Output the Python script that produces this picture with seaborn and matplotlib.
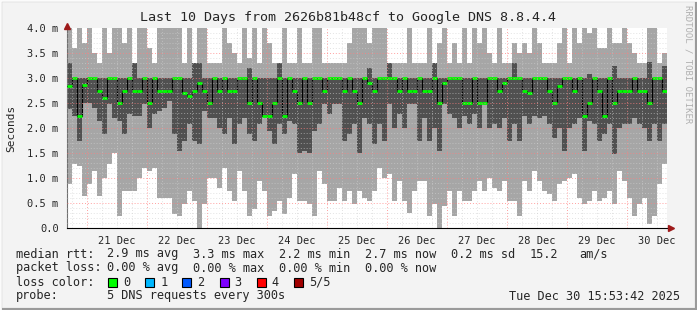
import seaborn as sns
import matplotlib.pyplot as plt
from matplotlib.patches import Rectangle
import pandas as pd
import numpy as np

# 120 two-hour slots, values in ms
smoke_hi = [4.0, 3.6, 4.0, 3.7, 4.0, 3.5, 3.3, 4.0, 3.5, 4.0, 4.0, 3.7, 4.0, 3.3, 4.0, 4.0, 3.6, 3.3, 4.0, 4.0,
            4.0, 4.0, 4.0, 3.3, 4.0, 3.31, 4.0, 4.0, 3.3, 3.3, 3.3, 4.0, 3.7, 3.5, 3.3, 4.0, 3.4, 4.0, 3.3, 4.0,
            3.7, 3.3, 3.3, 4.0, 3.3, 3.3, 4.0, 3.3, 3.3, 4.0, 4.0, 3.3, 3.3, 3.3, 3.3, 3.3, 3.7, 4.0, 4.0, 4.0,
            3.7, 4.0, 4.0, 4.0, 3.3, 3.3, 3.3, 3.3, 4.0, 3.3, 3.3, 3.3, 4.0, 3.3, 3.7, 4.0, 3.3, 3.7, 3.3, 4.0,
            3.3, 4.0, 3.7, 4.0, 3.5, 3.3, 4.0, 3.3, 3.3, 3.7, 3.5, 3.7, 3.5, 4.0, 3.7, 3.3, 3.3, 3.3, 3.7, 4.0,
            3.3, 4.0, 3.7, 4.0, 3.9, 4.0, 3.6, 3.6, 4.0, 3.7, 3.7, 4.0, 3.7, 3.5, 3.3, 3.3, 4.0, 4.0, 3.3, 3.5]
smoke_lo = [0.88, 1.28, 1.25, 0.65, 0.88, 1.15, 0.65, 1.01, 1.28, 1.5, 0.25, 0.75, 0.75, 0.75, 1.01, 1.21, 1.15, 1.2, 0.61, 0.61,
            0.6, 0.28, 0.25, 0.48, 0.75, 0.55, 0.01, 0.48, 1.01, 1.0, 0.81, 1.21, 0.75, 0.55, 1.15, 0.75, 0.25, 0.38, 0.95, 0.75,
            0.25, 0.35, 0.55, 0.28, 0.61, 1.08, 0.55, 0.55, 0.48, 0.25, 1.15, 0.88, 0.55, 0.55, 0.81, 0.55, 0.75, 0.48, 0.75, 0.61,
            0.55, 0.75, 1.21, 1.01, 1.08, 0.55, 0.95, 0.55, 0.31, 0.75, 0.95, 0.95, 0.25, 0.48, 0.0, 0.45, 0.75, 0.25, 0.75, 0.55,
            0.55, 0.75, 0.95, 0.75, 1.01, 0.81, 0.75, 0.95, 0.55, 0.55, 0.25, 0.95, 0.75, 1.15, 0.95, 0.75, 0.68, 0.55, 0.88, 0.95,
            1.01, 1.08, 0.61, 0.48, 0.55, 0.75, 0.55, 0.61, 0.75, 0.48, 1.15, 0.95, 0.61, 0.25, 0.48, 0.61, 0.08, 0.25, 0.88, 1.28]
dark_hi = [3.3, 3.0, 3.0, 3.0, 3.0, 3.0, 3.0, 3.0, 3.0, 3.0, 3.0, 3.0, 3.0, 3.31, 3.0, 3.0, 3.0, 3.0, 3.0, 3.0,
           3.0, 3.0, 3.0, 3.0, 3.0, 3.31, 3.31, 3.0, 3.0, 3.0, 3.0, 3.0, 3.0, 3.0, 3.0, 3.0, 3.21, 3.0, 3.0, 3.0,
           3.0, 3.0, 3.31, 3.0, 3.0, 3.0, 3.0, 3.0, 3.0, 3.0, 3.0, 3.0, 3.0, 3.0, 3.0, 3.0, 3.0, 3.0, 3.0, 3.0,
           3.21, 3.0, 3.0, 3.0, 3.31, 3.0, 3.0, 3.0, 3.0, 3.0, 3.0, 3.0, 3.0, 3.31, 3.0, 3.0, 3.0, 3.0, 3.0, 3.0,
           3.0, 3.0, 3.0, 3.0, 3.0, 3.0, 3.0, 3.0, 3.0, 3.31, 3.0, 3.0, 3.0, 3.0, 3.0, 3.0, 3.0, 3.0, 3.0, 3.0,
           3.0, 3.0, 3.0, 3.0, 3.08, 3.0, 3.0, 3.0, 3.0, 3.25, 3.0, 3.0, 3.0, 3.0, 3.0, 3.0, 3.33, 3.0, 3.0, 3.25]
dark_lo = [2.38, 2.25, 1.75, 2.5, 2.5, 2.41, 2.15, 1.88, 2.48, 2.21, 2.15, 1.88, 2.28, 2.25, 2.25, 2.48, 2.01, 2.28, 2.35, 2.41,
           2.55, 1.88, 1.55, 1.75, 2.08, 1.75, 1.68, 2.35, 2.21, 2.21, 2.01, 1.88, 2.21, 1.68, 2.08, 2.21, 1.88, 1.75, 2.08, 2.25,
           1.95, 1.68, 2.08, 1.88, 2.15, 2.08, 1.51, 1.55, 1.51, 1.95, 2.08, 2.48, 2.28, 2.48, 2.48, 1.75, 1.88, 2.08, 1.51, 2.21,
           2.08, 1.68, 2.08, 1.75, 2.48, 2.01, 2.28, 2.01, 2.48, 2.48, 1.75, 2.21, 1.75, 2.01, 1.55, 2.48, 2.28, 2.21, 2.01, 2.25,
           2.08, 2.28, 2.01, 2.48, 2.01, 2.08, 2.01, 2.21, 1.75, 2.08, 1.75, 2.25, 2.08, 2.25, 2.21, 2.25, 2.08, 1.81, 2.01, 1.55,
           2.01, 2.08, 2.21, 1.55, 2.15, 2.08, 1.75, 1.88, 2.08, 1.48, 2.01, 2.08, 2.08, 2.21, 2.08, 2.01, 1.75, 2.08, 1.75, 2.08]
median = [2.85, 3.0, 2.25, 2.87, 3.0, 3.0, 2.75, 2.6, 3.0, 3.0, 2.5, 2.75, 3.0, 2.75, 2.75, 3.0, 2.5, 3.0, 2.75, 2.75,
          2.75, 3.0, 3.0, 2.7, 2.65, 2.75, 2.9, 2.75, 2.5, 3.0, 2.75, 3.0, 2.75, 2.75, 3.0, 3.0, 2.5, 3.0, 2.5, 2.25,
          2.25, 2.5, 3.0, 2.25, 3.0, 2.75, 2.5, 3.0, 2.5, 3.0, 3.0, 2.75, 3.0, 3.0, 3.0, 2.75, 3.0, 2.75, 2.5, 3.0,
          2.9, 2.75, 3.0, 3.0, 3.0, 3.0, 2.75, 3.0, 2.75, 2.75, 3.0, 2.75, 2.75, 3.0, 2.5, 2.9, 3.0, 3.0, 3.0, 2.5,
          2.5, 3.0, 2.5, 2.5, 3.0, 3.0, 2.75, 2.9, 3.0, 3.0, 3.0, 2.75, 2.7, 3.0, 3.0, 3.0, 2.75, 2.5, 2.85, 3.0,
          3.0, 2.75, 3.0, 2.25, 2.5, 3.0, 2.75, 2.25, 3.0, 2.5, 2.75, 2.75, 2.75, 3.0, 2.75, 2.75, 2.5, 3.0, 3.0, 2.75]

day_labels = ["21 Dec", "22 Dec", "23 Dec", "24 Dec", "25 Dec",
              "26 Dec", "27 Dec", "28 Dec", "29 Dec", "30 Dec"]
y_labels = ["0.0", "0.5 m", "1.0 m", "1.5 m", "2.0 m", "2.5 m", "3.0 m", "3.5 m", "4.0 m"]
loss_names = ["0", "1", "2", "3", "4", "5/5"]
loss_colors = ["#00ff00", "#00b8ff", "#0059ff", "#7e00ff", "#ff0000", "#a10000"]

# time in days since 20 Dec 00:00, one slot = 2 hours
t_start = 0.672
slot = 1 / 12
n = len(median)
df = pd.DataFrame({"t": t_start + np.arange(n) * slot, "hi": smoke_hi, "lo": smoke_lo,
                   "dhi": dark_hi, "dlo": dark_lo, "med": median})
edges = np.append(df.t.values, df.t.values[-1] + slot)
ext = lambda c: np.append(df[c].values, df[c].values[-1])

sns.set_style("white")
plt.rcParams['font.family'] = ['DejaVu Sans Mono']
bg = "#f3f3f3"
fig = plt.figure(figsize=(6.97, 3.10), dpi=100, facecolor=bg)
ax = fig.add_axes([67 / 697, 1 - 228 / 310, 600 / 697, 200 / 310])
ax.set_facecolor("white")

ax.fill_between(edges, ext("lo"), ext("hi"), step="post", color="#a6a6a6", lw=0, zorder=1)
ax.fill_between(edges, ext("dlo"), ext("dhi"), step="post", color="#505050", lw=0, zorder=2)
sns.lineplot(x=edges, y=ext("med"), drawstyle="steps-post", color="black", lw=0.8, ax=ax, zorder=3)
ax.hlines(df.med, df.t, df.t + slot, color="#00ff00", lw=2.0, zorder=4)

# grid on top like rrdtool, faint
x_end = t_start + 10
for h in np.arange(0.75, x_end, 0.25):
    major = abs(h - round(h)) < 1e-6
    ax.axvline(h, color="#ff8080" if major else "#d0d0d0", lw=0.7, alpha=0.75 if major else 0.6,
               ls=(0, (1, 2)), zorder=5)
for v in np.arange(0.1, 4.0, 0.1):
    major = abs(v * 2 - round(v * 2)) < 1e-6
    ax.axhline(v, color="#ff8080" if major else "#d0d0d0", lw=0.7, alpha=0.75 if major else 0.6,
               ls=(0, (1, 2)), zorder=5)

ax.set_xlim(t_start, x_end)
ax.set_ylim(0, 4.0)
ax.set_xticks(np.arange(1.5, 11, 1.0), day_labels, fontsize=7.5)
ax.set_yticks(np.arange(0, 4.01, 0.5), y_labels, fontsize=7.5)
ax.tick_params(length=0, pad=6)
ax.set_ylabel("Seconds", fontsize=8, labelpad=8)
for s in ["top", "right"]:
    ax.spines[s].set_visible(False)
ax.spines["left"].set_color("#707070")
ax.spines["bottom"].set_color("black")
ax.plot([1.006], [0], marker=">", color="#9e1a1a", ms=5, transform=ax.transAxes, clip_on=False, zorder=6)
ax.plot([0], [1.01], marker="^", color="#9e1a1a", ms=5, transform=ax.transAxes, clip_on=False, zorder=6)

fig.text(0.5, 1 - 18 / 310, "Last 10 Days from 2626b81b48cf to Google DNS 8.8.4.4",
         ha="center", va="center", fontsize=9.6)
fig.text(688 / 697, 1 - 5 / 310, "RRDTOOL / TOBI OETIKER", rotation=270, ha="center", va="top",
         fontsize=6.5, color="#b0b0b0")

# legend block
lf = 8.6
def ftxt(x, y, s, **kw):
    fig.text(x / 697, 1 - y / 310, s, fontsize=lf, va="center", ha=kw.pop("ha", "left"), **kw)

ftxt(16, 254, "median rtt:")
for x, s in [(107, "2.9 ms avg"), (193, "3.3 ms max"), (279, "2.2 ms min"),
             (365, "2.7 ms now"), (451, "0.2 ms sd"), (530, "15.2"), (579, "am/s")]:
    ftxt(x, 254, s)
ftxt(16, 268, "packet loss:")
for x, s in [(107, "0.00 % avg"), (193, "0.00 % max"), (279, "0.00 % min"), (365, "0.00 % now")]:
    ftxt(x, 268, s)
ftxt(16, 282, "loss color:")
for i, (name, col) in enumerate(zip(loss_names, loss_colors)):
    x0 = 108 + i * 37.2
    fig.add_artist(Rectangle((x0 / 697, 1 - 286.5 / 310), 9 / 697, 9 / 310,
                             transform=fig.transFigure, facecolor=col, edgecolor="black", lw=0.8))
    ftxt(x0 + 15, 282, name)
ftxt(16, 296, "probe:")
ftxt(107, 296, "5 DNS requests every 300s")
ftxt(680, 296, "Tue Dec 30 15:53:42 2025", ha="right")

# 3d frame
fig.add_artist(Rectangle((0, 0), 1, 1, transform=fig.transFigure, fill=False,
                         edgecolor="#9a9a9a", lw=3))
fig.add_artist(plt.Line2D([0, 0, 1], [0, 1, 1], transform=fig.transFigure, color="#fbfbfb", lw=2))

fig.savefig("out.png", dpi=100, facecolor=bg)
